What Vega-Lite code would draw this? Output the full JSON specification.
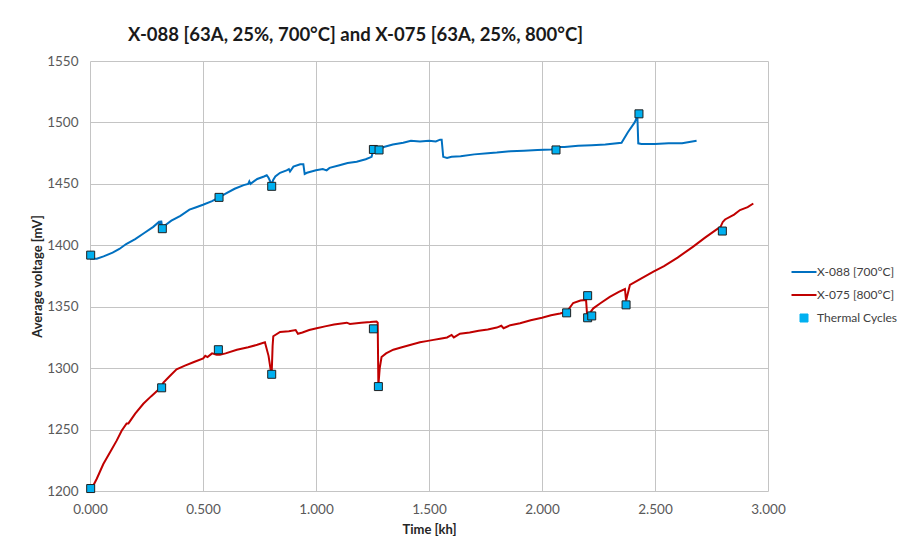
{
  "$schema": "https://vega.github.io/schema/vega-lite/v6.json",
  "autosize": {"type": "none"},
  "padding": {"left": 90, "top": 61, "right": 132, "bottom": 56},
  "width": 678,
  "height": 430,
  "background": "white",
  "title": {
    "text": "X-088 [63A, 25%, 700°C] and X-075 [63A, 25%, 800°C]",
    "anchor": "start",
    "frame": "group",
    "dx": 38,
    "offset": 10,
    "fontSize": 18.5,
    "fontWeight": "bold",
    "color": "#1a1a1a",
    "font": "Lato"
  },
  "data": {
    "values": [
      {"series": "X-088 [700°C]", "t": 0.000, "v": 1389},
      {"series": "X-088 [700°C]", "t": 0.030, "v": 1389},
      {"series": "X-088 [700°C]", "t": 0.060, "v": 1391},
      {"series": "X-088 [700°C]", "t": 0.100, "v": 1394},
      {"series": "X-088 [700°C]", "t": 0.130, "v": 1397},
      {"series": "X-088 [700°C]", "t": 0.160, "v": 1401},
      {"series": "X-088 [700°C]", "t": 0.200, "v": 1405},
      {"series": "X-088 [700°C]", "t": 0.240, "v": 1410},
      {"series": "X-088 [700°C]", "t": 0.280, "v": 1415},
      {"series": "X-088 [700°C]", "t": 0.305, "v": 1419},
      {"series": "X-088 [700°C]", "t": 0.310, "v": 1417},
      {"series": "X-088 [700°C]", "t": 0.315, "v": 1420},
      {"series": "X-088 [700°C]", "t": 0.320, "v": 1414},
      {"series": "X-088 [700°C]", "t": 0.330, "v": 1416},
      {"series": "X-088 [700°C]", "t": 0.360, "v": 1420},
      {"series": "X-088 [700°C]", "t": 0.400, "v": 1424},
      {"series": "X-088 [700°C]", "t": 0.440, "v": 1429},
      {"series": "X-088 [700°C]", "t": 0.470, "v": 1431},
      {"series": "X-088 [700°C]", "t": 0.500, "v": 1433},
      {"series": "X-088 [700°C]", "t": 0.540, "v": 1436},
      {"series": "X-088 [700°C]", "t": 0.571, "v": 1439},
      {"series": "X-088 [700°C]", "t": 0.600, "v": 1442},
      {"series": "X-088 [700°C]", "t": 0.640, "v": 1446},
      {"series": "X-088 [700°C]", "t": 0.680, "v": 1449},
      {"series": "X-088 [700°C]", "t": 0.700, "v": 1450},
      {"series": "X-088 [700°C]", "t": 0.705, "v": 1452},
      {"series": "X-088 [700°C]", "t": 0.710, "v": 1450},
      {"series": "X-088 [700°C]", "t": 0.740, "v": 1454},
      {"series": "X-088 [700°C]", "t": 0.770, "v": 1456},
      {"series": "X-088 [700°C]", "t": 0.782, "v": 1457},
      {"series": "X-088 [700°C]", "t": 0.790, "v": 1455},
      {"series": "X-088 [700°C]", "t": 0.800, "v": 1451},
      {"series": "X-088 [700°C]", "t": 0.804, "v": 1449},
      {"series": "X-088 [700°C]", "t": 0.810, "v": 1453},
      {"series": "X-088 [700°C]", "t": 0.820, "v": 1456},
      {"series": "X-088 [700°C]", "t": 0.841, "v": 1459},
      {"series": "X-088 [700°C]", "t": 0.870, "v": 1461},
      {"series": "X-088 [700°C]", "t": 0.880, "v": 1462},
      {"series": "X-088 [700°C]", "t": 0.885, "v": 1460},
      {"series": "X-088 [700°C]", "t": 0.900, "v": 1464},
      {"series": "X-088 [700°C]", "t": 0.930, "v": 1466},
      {"series": "X-088 [700°C]", "t": 0.944, "v": 1466},
      {"series": "X-088 [700°C]", "t": 0.950, "v": 1458},
      {"series": "X-088 [700°C]", "t": 0.960, "v": 1459},
      {"series": "X-088 [700°C]", "t": 1.000, "v": 1461},
      {"series": "X-088 [700°C]", "t": 1.030, "v": 1462},
      {"series": "X-088 [700°C]", "t": 1.047, "v": 1461},
      {"series": "X-088 [700°C]", "t": 1.060, "v": 1463},
      {"series": "X-088 [700°C]", "t": 1.100, "v": 1465},
      {"series": "X-088 [700°C]", "t": 1.140, "v": 1467},
      {"series": "X-088 [700°C]", "t": 1.180, "v": 1468},
      {"series": "X-088 [700°C]", "t": 1.220, "v": 1470},
      {"series": "X-088 [700°C]", "t": 1.246, "v": 1472},
      {"series": "X-088 [700°C]", "t": 1.254, "v": 1478},
      {"series": "X-088 [700°C]", "t": 1.279, "v": 1478},
      {"series": "X-088 [700°C]", "t": 1.300, "v": 1480},
      {"series": "X-088 [700°C]", "t": 1.340, "v": 1482},
      {"series": "X-088 [700°C]", "t": 1.386, "v": 1483.5},
      {"series": "X-088 [700°C]", "t": 1.420, "v": 1485},
      {"series": "X-088 [700°C]", "t": 1.460, "v": 1484.5},
      {"series": "X-088 [700°C]", "t": 1.500, "v": 1485},
      {"series": "X-088 [700°C]", "t": 1.530, "v": 1484.5},
      {"series": "X-088 [700°C]", "t": 1.549, "v": 1486},
      {"series": "X-088 [700°C]", "t": 1.556, "v": 1486},
      {"series": "X-088 [700°C]", "t": 1.563, "v": 1472},
      {"series": "X-088 [700°C]", "t": 1.580, "v": 1471},
      {"series": "X-088 [700°C]", "t": 1.600, "v": 1472},
      {"series": "X-088 [700°C]", "t": 1.640, "v": 1472.5},
      {"series": "X-088 [700°C]", "t": 1.700, "v": 1474},
      {"series": "X-088 [700°C]", "t": 1.760, "v": 1475},
      {"series": "X-088 [700°C]", "t": 1.800, "v": 1475.5},
      {"series": "X-088 [700°C]", "t": 1.860, "v": 1476.5},
      {"series": "X-088 [700°C]", "t": 1.920, "v": 1477},
      {"series": "X-088 [700°C]", "t": 1.980, "v": 1477.5},
      {"series": "X-088 [700°C]", "t": 2.040, "v": 1478},
      {"series": "X-088 [700°C]", "t": 2.065, "v": 1478.5},
      {"series": "X-088 [700°C]", "t": 2.070, "v": 1480},
      {"series": "X-088 [700°C]", "t": 2.100, "v": 1480},
      {"series": "X-088 [700°C]", "t": 2.160, "v": 1481},
      {"series": "X-088 [700°C]", "t": 2.220, "v": 1481.5},
      {"series": "X-088 [700°C]", "t": 2.280, "v": 1482},
      {"series": "X-088 [700°C]", "t": 2.352, "v": 1483.5},
      {"series": "X-088 [700°C]", "t": 2.380, "v": 1492},
      {"series": "X-088 [700°C]", "t": 2.410, "v": 1500},
      {"series": "X-088 [700°C]", "t": 2.422, "v": 1505},
      {"series": "X-088 [700°C]", "t": 2.426, "v": 1483},
      {"series": "X-088 [700°C]", "t": 2.440, "v": 1482.5},
      {"series": "X-088 [700°C]", "t": 2.500, "v": 1482.5},
      {"series": "X-088 [700°C]", "t": 2.560, "v": 1483},
      {"series": "X-088 [700°C]", "t": 2.620, "v": 1483},
      {"series": "X-088 [700°C]", "t": 2.684, "v": 1485},

      {"series": "X-075 [800°C]", "t": 0.005, "v": 1201},
      {"series": "X-075 [800°C]", "t": 0.030, "v": 1210},
      {"series": "X-075 [800°C]", "t": 0.059, "v": 1222},
      {"series": "X-075 [800°C]", "t": 0.090, "v": 1232},
      {"series": "X-075 [800°C]", "t": 0.118, "v": 1241},
      {"series": "X-075 [800°C]", "t": 0.140, "v": 1249},
      {"series": "X-075 [800°C]", "t": 0.162, "v": 1255},
      {"series": "X-075 [800°C]", "t": 0.170, "v": 1255},
      {"series": "X-075 [800°C]", "t": 0.200, "v": 1263},
      {"series": "X-075 [800°C]", "t": 0.236, "v": 1271},
      {"series": "X-075 [800°C]", "t": 0.270, "v": 1277},
      {"series": "X-075 [800°C]", "t": 0.300, "v": 1282},
      {"series": "X-075 [800°C]", "t": 0.317, "v": 1285},
      {"series": "X-075 [800°C]", "t": 0.324, "v": 1288},
      {"series": "X-075 [800°C]", "t": 0.350, "v": 1293},
      {"series": "X-075 [800°C]", "t": 0.383, "v": 1299},
      {"series": "X-075 [800°C]", "t": 0.420, "v": 1302},
      {"series": "X-075 [800°C]", "t": 0.460, "v": 1305},
      {"series": "X-075 [800°C]", "t": 0.501, "v": 1308},
      {"series": "X-075 [800°C]", "t": 0.510, "v": 1310},
      {"series": "X-075 [800°C]", "t": 0.520, "v": 1309},
      {"series": "X-075 [800°C]", "t": 0.540, "v": 1312},
      {"series": "X-075 [800°C]", "t": 0.560, "v": 1311},
      {"series": "X-075 [800°C]", "t": 0.575, "v": 1311},
      {"series": "X-075 [800°C]", "t": 0.600, "v": 1312},
      {"series": "X-075 [800°C]", "t": 0.650, "v": 1315},
      {"series": "X-075 [800°C]", "t": 0.700, "v": 1317},
      {"series": "X-075 [800°C]", "t": 0.740, "v": 1319},
      {"series": "X-075 [800°C]", "t": 0.774, "v": 1321},
      {"series": "X-075 [800°C]", "t": 0.790, "v": 1310},
      {"series": "X-075 [800°C]", "t": 0.800, "v": 1298},
      {"series": "X-075 [800°C]", "t": 0.804, "v": 1296},
      {"series": "X-075 [800°C]", "t": 0.808, "v": 1318},
      {"series": "X-075 [800°C]", "t": 0.811, "v": 1326},
      {"series": "X-075 [800°C]", "t": 0.841, "v": 1329.5},
      {"series": "X-075 [800°C]", "t": 0.880, "v": 1330},
      {"series": "X-075 [800°C]", "t": 0.910, "v": 1331},
      {"series": "X-075 [800°C]", "t": 0.920, "v": 1328},
      {"series": "X-075 [800°C]", "t": 0.940, "v": 1329},
      {"series": "X-075 [800°C]", "t": 0.970, "v": 1331},
      {"series": "X-075 [800°C]", "t": 1.003, "v": 1332.5},
      {"series": "X-075 [800°C]", "t": 1.040, "v": 1334},
      {"series": "X-075 [800°C]", "t": 1.080, "v": 1335.5},
      {"series": "X-075 [800°C]", "t": 1.136, "v": 1337},
      {"series": "X-075 [800°C]", "t": 1.150, "v": 1336},
      {"series": "X-075 [800°C]", "t": 1.200, "v": 1337},
      {"series": "X-075 [800°C]", "t": 1.240, "v": 1337.5},
      {"series": "X-075 [800°C]", "t": 1.268, "v": 1338},
      {"series": "X-075 [800°C]", "t": 1.273, "v": 1337},
      {"series": "X-075 [800°C]", "t": 1.276, "v": 1286},
      {"series": "X-075 [800°C]", "t": 1.282, "v": 1300},
      {"series": "X-075 [800°C]", "t": 1.290, "v": 1309},
      {"series": "X-075 [800°C]", "t": 1.310, "v": 1312},
      {"series": "X-075 [800°C]", "t": 1.342, "v": 1315},
      {"series": "X-075 [800°C]", "t": 1.380, "v": 1317},
      {"series": "X-075 [800°C]", "t": 1.420, "v": 1319},
      {"series": "X-075 [800°C]", "t": 1.460, "v": 1321},
      {"series": "X-075 [800°C]", "t": 1.489, "v": 1322},
      {"series": "X-075 [800°C]", "t": 1.520, "v": 1323},
      {"series": "X-075 [800°C]", "t": 1.549, "v": 1324},
      {"series": "X-075 [800°C]", "t": 1.580, "v": 1325},
      {"series": "X-075 [800°C]", "t": 1.600, "v": 1327},
      {"series": "X-075 [800°C]", "t": 1.610, "v": 1325},
      {"series": "X-075 [800°C]", "t": 1.637, "v": 1328},
      {"series": "X-075 [800°C]", "t": 1.680, "v": 1329},
      {"series": "X-075 [800°C]", "t": 1.720, "v": 1330.5},
      {"series": "X-075 [800°C]", "t": 1.760, "v": 1331.5},
      {"series": "X-075 [800°C]", "t": 1.800, "v": 1333},
      {"series": "X-075 [800°C]", "t": 1.820, "v": 1334.5},
      {"series": "X-075 [800°C]", "t": 1.830, "v": 1332.5},
      {"series": "X-075 [800°C]", "t": 1.860, "v": 1335},
      {"series": "X-075 [800°C]", "t": 1.903, "v": 1336.5},
      {"series": "X-075 [800°C]", "t": 1.950, "v": 1339},
      {"series": "X-075 [800°C]", "t": 2.000, "v": 1341},
      {"series": "X-075 [800°C]", "t": 2.040, "v": 1343},
      {"series": "X-075 [800°C]", "t": 2.080, "v": 1344.5},
      {"series": "X-075 [800°C]", "t": 2.110, "v": 1346},
      {"series": "X-075 [800°C]", "t": 2.138, "v": 1353},
      {"series": "X-075 [800°C]", "t": 2.170, "v": 1355},
      {"series": "X-075 [800°C]", "t": 2.195, "v": 1355.5},
      {"series": "X-075 [800°C]", "t": 2.200, "v": 1342},
      {"series": "X-075 [800°C]", "t": 2.227, "v": 1348.7},
      {"series": "X-075 [800°C]", "t": 2.260, "v": 1353},
      {"series": "X-075 [800°C]", "t": 2.300, "v": 1358},
      {"series": "X-075 [800°C]", "t": 2.340, "v": 1362},
      {"series": "X-075 [800°C]", "t": 2.367, "v": 1364.4},
      {"series": "X-075 [800°C]", "t": 2.372, "v": 1355},
      {"series": "X-075 [800°C]", "t": 2.389, "v": 1367.7},
      {"series": "X-075 [800°C]", "t": 2.440, "v": 1373},
      {"series": "X-075 [800°C]", "t": 2.493, "v": 1378.5},
      {"series": "X-075 [800°C]", "t": 2.540, "v": 1383},
      {"series": "X-075 [800°C]", "t": 2.600, "v": 1390},
      {"series": "X-075 [800°C]", "t": 2.669, "v": 1398.9},
      {"series": "X-075 [800°C]", "t": 2.720, "v": 1406},
      {"series": "X-075 [800°C]", "t": 2.773, "v": 1413},
      {"series": "X-075 [800°C]", "t": 2.790, "v": 1415},
      {"series": "X-075 [800°C]", "t": 2.800, "v": 1419},
      {"series": "X-075 [800°C]", "t": 2.810, "v": 1421},
      {"series": "X-075 [800°C]", "t": 2.850, "v": 1425},
      {"series": "X-075 [800°C]", "t": 2.876, "v": 1428.7},
      {"series": "X-075 [800°C]", "t": 2.910, "v": 1431},
      {"series": "X-075 [800°C]", "t": 2.935, "v": 1434},

      {"series": "Thermal Cycles", "t": 0.003, "v": 1392},
      {"series": "Thermal Cycles", "t": 0.320, "v": 1413.5},
      {"series": "Thermal Cycles", "t": 0.571, "v": 1439},
      {"series": "Thermal Cycles", "t": 0.804, "v": 1448},
      {"series": "Thermal Cycles", "t": 1.254, "v": 1478},
      {"series": "Thermal Cycles", "t": 1.279, "v": 1477.6},
      {"series": "Thermal Cycles", "t": 2.062, "v": 1477.6},
      {"series": "Thermal Cycles", "t": 2.429, "v": 1507},
      {"series": "Thermal Cycles", "t": 0.003, "v": 1202},
      {"series": "Thermal Cycles", "t": 0.317, "v": 1284},
      {"series": "Thermal Cycles", "t": 0.568, "v": 1315},
      {"series": "Thermal Cycles", "t": 0.804, "v": 1295},
      {"series": "Thermal Cycles", "t": 1.254, "v": 1332},
      {"series": "Thermal Cycles", "t": 1.276, "v": 1285},
      {"series": "Thermal Cycles", "t": 2.109, "v": 1345},
      {"series": "Thermal Cycles", "t": 2.202, "v": 1359},
      {"series": "Thermal Cycles", "t": 2.202, "v": 1341},
      {"series": "Thermal Cycles", "t": 2.220, "v": 1342.5},
      {"series": "Thermal Cycles", "t": 2.372, "v": 1351.5},
      {"series": "Thermal Cycles", "t": 2.798, "v": 1411.6}
    ]
  },
  "encoding": {
    "x": {
      "field": "t",
      "type": "quantitative",
      "scale": {"domain": [0, 3], "nice": false, "zero": false},
      "axis": {
        "title": "Time [kh]",
        "values": [0, 0.5, 1, 1.5, 2, 2.5, 3],
        "format": ".3f",
        "labelPadding": 11,
        "titlePadding": 8
      }
    },
    "y": {
      "field": "v",
      "type": "quantitative",
      "scale": {"domain": [1200, 1550], "nice": false, "zero": false},
      "axis": {
        "title": "Average voltage [mV]",
        "values": [1200, 1250, 1300, 1350, 1400, 1450, 1500, 1550],
        "format": "d",
        "labelPadding": 12,
        "titlePadding": 2
      }
    },
    "color": {
      "field": "series",
      "type": "nominal",
      "scale": {
        "domain": ["X-088 [700°C]", "X-075 [800°C]", "Thermal Cycles"],
        "range": ["#0070C0", "#C00000", "#00B0F0"]
      },
      "legend": {
        "title": null,
        "orient": "none",
        "legendX": 708,
        "legendY": 205,
        "padding": 0,
        "symbolSize": 625,
        "labelOffset": 7,
        "rowPadding": 11,
        "labelFontSize": 12,
        "labelLimit": 200,
        "labelColor": "#404040",
        "labelFont": "Lato",
        "encode": {
          "symbols": {
            "update": {
              "shape": {"signal": "datum.value === 'Thermal Cycles' ? 'square' : 'stroke'"},
              "size": {"signal": "datum.value === 'Thermal Cycles' ? 64 : 625"},
              "stroke": {"signal": "datum.value === 'Thermal Cycles' ? '#1f1f1f' : scale('color', datum.value)"},
              "fill": {"signal": "datum.value === 'Thermal Cycles' ? '#00B0F0' : 'transparent'"},
              "strokeWidth": {"signal": "datum.value === 'Thermal Cycles' ? 1 : 2"},
              "opacity": {"value": 1}
            }
          }
        }
      }
    }
  },
  "layer": [
    {
      "transform": [{"filter": "datum.series !== 'Thermal Cycles'"}],
      "mark": {"type": "line", "strokeWidth": 2, "interpolate": "linear"}
    },
    {
      "transform": [{"filter": "datum.series === 'Thermal Cycles'"}],
      "mark": {
        "type": "point",
        "shape": "square",
        "filled": true,
        "size": 64,
        "opacity": 1,
        "stroke": "#1f1f1f",
        "strokeWidth": 1
      }
    }
  ],
  "config": {
    "font": "Lato",
    "view": {"stroke": null},
    "axis": {
      "grid": true,
      "gridColor": "#c4c4c4",
      "gridWidth": 1,
      "domain": false,
      "ticks": false,
      "labelFlush": false,
      "labelFont": "Lato",
      "labelFontSize": 13.5,
      "labelColor": "#595959",
      "titleFont": "Lato",
      "titleFontSize": 13,
      "titleFontWeight": "bold",
      "titleColor": "#262626"
    }
  }
}
